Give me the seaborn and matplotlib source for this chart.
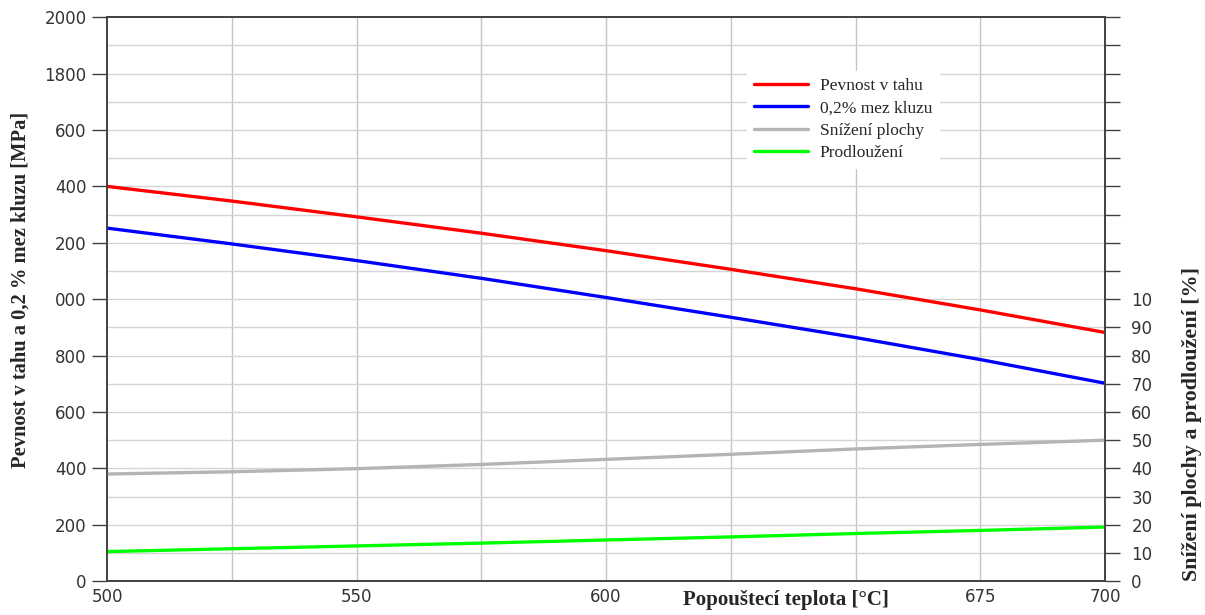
import pandas as pd
import seaborn as sns
import matplotlib.pyplot as plt

# Data
teplota = [500, 525, 550, 575, 600, 625, 650, 675, 700]
pevnost = [1400, 1348, 1292, 1234, 1172, 1106, 1037, 962, 882]
mez_kluzu = [1252, 1196, 1137, 1074, 1006, 936, 864, 786, 702]
snizeni_plochy = [38.0, 38.8, 39.9, 41.4, 43.2, 45.0, 46.9, 48.5, 50.0]
prodlouzeni = [10.5, 11.5, 12.5, 13.5, 14.6, 15.7, 16.9, 18.0, 19.2]

left_ticks = [0, 200, 400, 600, 800, 1000, 1200, 1400, 1600, 1800, 2000]
left_labels = ['0', '200', '400', '600', '800', '000', '200', '400', '600', '1800', '2000']
right_labels = ['0', '10', '20', '30', '40', '50', '60', '70', '80', '90', '10']
x_ticks = [500, 550, 600, 675, 700]

dtf = pd.DataFrame({'T': teplota, 'Pevnost v tahu': pevnost,
                    '0,2% mez kluzu': mez_kluzu,
                    'Snížení plochy': snizeni_plochy,
                    'Prodloužení': prodlouzeni})

sns.set_style('white')
plt.rcParams['font.family'] = ['DejaVu Sans']

fig, ax = plt.subplots(figsize=(12.05, 6.15), dpi=100)
fig.subplots_adjust(left=0.089, right=0.917, top=0.972, bottom=0.055)
ax2 = ax.twinx()

sns.lineplot(data=dtf, x='T', y='Pevnost v tahu', ax=ax, color='#ff0000', lw=2.4, label='Pevnost v tahu')
sns.lineplot(data=dtf, x='T', y='0,2% mez kluzu', ax=ax, color='#0000ff', lw=2.4, label='0,2% mez kluzu')
sns.lineplot(data=dtf, x='T', y='Snížení plochy', ax=ax2, color='#b4b4b4', lw=2.4, label='Snížení plochy')
sns.lineplot(data=dtf, x='T', y='Prodloužení', ax=ax2, color='#00ff00', lw=2.4, label='Prodloužení')

ax.set_xlim(500, 700)
ax.set_ylim(0, 2000)
ax2.set_ylim(0, 200)

# grid lines
for xv in range(525, 700, 25):
    ax.axvline(xv, color='#c4c4c4', lw=1, zorder=0)
for yv in range(100, 2000, 100):
    ax.axhline(yv, color='#d4d4d4', lw=1, zorder=0)

ax.set_yticks(left_ticks)
ax.set_yticklabels(left_labels)
ax.set_xticks(x_ticks)
ax.set_xticklabels([str(v) for v in x_ticks])
ax.tick_params(axis='x', length=0, pad=5, labelsize=12, labelcolor='#333333')
ax.tick_params(axis='y', length=11, width=1, color='#404040', labelsize=12,
               labelcolor='#333333', pad=4)

ax2.set_yticks(range(0, 201, 10))
ax2.set_yticklabels(right_labels + [''] * 10)
ax2.tick_params(axis='y', length=11, width=1, color='#404040', labelsize=12,
                labelcolor='#333333', pad=8)

for a in (ax, ax2):
    for s in a.spines.values():
        s.set_color('#404040')
        s.set_linewidth(1.2)

ax.set_xlabel('')
ax.set_ylabel('')
ax2.set_ylabel('')

serif = ['Liberation Serif', 'DejaVu Serif']
fig.text(0.652, 0.008, 'Popouštecí teplota [°C]', family=serif, fontweight='bold',
         fontsize=15, ha='center', va='bottom')
fig.text(0.017, 0.528, 'Pevnost v tahu a 0,2 % mez kluzu [MPa]', family=serif,
         fontweight='bold', fontsize=14.8, rotation=90, ha='center', va='center')
fig.text(0.989, 0.311, 'Snížení plochy a prodloužení [%]', family=serif,
         fontweight='bold', fontsize=15.8, rotation=90, ha='center', va='center')

h1, l1 = ax.get_legend_handles_labels()
h2, l2 = ax2.get_legend_handles_labels()
if ax.get_legend():
    ax.get_legend().remove()
if ax2.get_legend():
    ax2.get_legend().remove()
leg = ax2.legend(h1 + h2, l1 + l2, loc='upper left', bbox_to_anchor=(0.641, 0.905),
                 frameon=True, fancybox=False, edgecolor='white', facecolor='white',
                 framealpha=1, prop={'family': serif, 'size': 12.5},
                 handlelength=3.1, handletextpad=0.7, labelspacing=0.36,
                 borderaxespad=0)

fig.savefig('out.png', dpi=100)
